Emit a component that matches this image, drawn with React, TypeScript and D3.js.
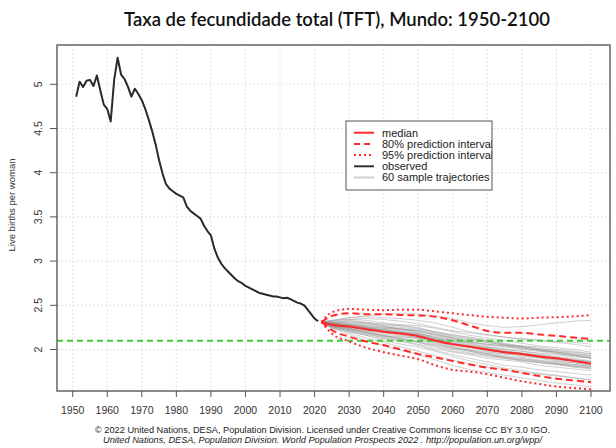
import React from "react";
import * as d3 from "d3";

const W = 616;
const H = 448;

const TITLE = "Taxa de fecundidade total (TFT), Mundo: 1950-2100";
const Y_LABEL = "Live births per woman";
const CREDIT1 = "© 2022 United Nations, DESA, Population Division. Licensed under Creative Commons license CC BY 3.0 IGO.";
const CREDIT2 = "United Nations, DESA, Population Division. World Population Prospects 2022 . http://population.un.org/wpp/";

const X_TICKS = [1950, 1960, 1970, 1980, 1990, 2000, 2010, 2020, 2030, 2040, 2050, 2060, 2070, 2080, 2090, 2100];
const Y_TICKS = [2, 2.5, 3, 3.5, 4, 4.5, 5];
const REPLACEMENT = 2.1;

const OBS_YEARS = d3.range(1951, 2022);
const OBS_TFR = [
  4.86, 5.03, 4.97, 5.04, 5.05, 4.98, 5.10, 4.93, 4.77, 4.72,
  4.58, 5.05, 5.30, 5.11, 5.06, 4.97, 4.86, 4.95, 4.89, 4.82,
  4.72, 4.60, 4.47, 4.32, 4.14, 3.99, 3.87, 3.82, 3.79, 3.76,
  3.74, 3.72, 3.62, 3.57, 3.54, 3.51, 3.48, 3.40, 3.34, 3.29,
  3.14, 3.04, 2.97, 2.92, 2.88, 2.84, 2.80, 2.77, 2.75, 2.72,
  2.70, 2.68, 2.66, 2.64, 2.63, 2.62, 2.61, 2.60, 2.60, 2.59,
  2.58, 2.585, 2.57, 2.55, 2.53, 2.52, 2.50, 2.45, 2.40, 2.35,
  2.32,
];

const PROJ_YEARS = [2022, 2025, 2030, 2035, 2040, 2045, 2050, 2055, 2060, 2065, 2070, 2075, 2080, 2085, 2090, 2095, 2100];
const MEDIAN = [2.31, 2.28, 2.26, 2.23, 2.20, 2.18, 2.15, 2.10, 2.06, 2.03, 2.00, 1.97, 1.95, 1.92, 1.90, 1.87, 1.84];
const UP80 = [2.31, 2.38, 2.41, 2.40, 2.40, 2.39, 2.385, 2.37, 2.33, 2.27, 2.21, 2.19, 2.19, 2.17, 2.155, 2.135, 2.12];
const LO80 = [2.31, 2.22, 2.145, 2.09, 2.05, 2.00, 1.95, 1.91, 1.87, 1.83, 1.795, 1.77, 1.735, 1.70, 1.67, 1.65, 1.63];
const UP95 = [2.31, 2.42, 2.46, 2.45, 2.445, 2.45, 2.45, 2.43, 2.41, 2.39, 2.37, 2.36, 2.35, 2.36, 2.365, 2.375, 2.39];
const LO95 = [2.31, 2.18, 2.09, 2.02, 1.97, 1.93, 1.89, 1.82, 1.77, 1.75, 1.72, 1.68, 1.64, 1.61, 1.58, 1.565, 1.55];

const TRAJ_1 = [2.31, 2.30, 2.33, 2.31, 2.28, 2.27, 2.25, 2.20, 2.15, 2.12, 2.10, 2.06, 2.04, 2.03, 2.00, 1.98, 1.95];
const TRAJ_2 = [2.31, 2.26, 2.22, 2.18, 2.13, 2.10, 2.06, 2.01, 1.97, 1.94, 1.90, 1.88, 1.86, 1.82, 1.80, 1.78, 1.76];
const TRAJ_3 = [2.31, 2.29, 2.28, 2.26, 2.24, 2.22, 2.21, 2.17, 2.13, 2.08, 2.06, 2.04, 2.03, 2.00, 1.98, 1.96, 1.93];
const TRAJ_4 = [2.31, 2.27, 2.24, 2.20, 2.16, 2.12, 2.08, 2.03, 1.98, 1.95, 1.92, 1.90, 1.87, 1.85, 1.83, 1.81, 1.79];
const TRAJ_5 = [2.31, 2.32, 2.36, 2.37, 2.36, 2.35, 2.33, 2.30, 2.25, 2.20, 2.17, 2.14, 2.12, 2.11, 2.09, 2.08, 2.06];
const TRAJ_6 = [2.31, 2.25, 2.19, 2.13, 2.08, 2.03, 1.98, 1.93, 1.88, 1.84, 1.80, 1.77, 1.74, 1.72, 1.70, 1.68, 1.66];
const TRAJ_7 = [2.31, 2.28, 2.25, 2.24, 2.21, 2.19, 2.17, 2.12, 2.09, 2.05, 2.02, 1.99, 1.96, 1.93, 1.91, 1.89, 1.86];
const TRAJ_8 = [2.31, 2.30, 2.27, 2.25, 2.22, 2.20, 2.18, 2.14, 2.10, 2.07, 2.03, 2.00, 1.98, 1.96, 1.94, 1.92, 1.90];
const TRAJ_9 = [2.31, 2.26, 2.23, 2.21, 2.17, 2.15, 2.12, 2.07, 2.02, 1.99, 1.96, 1.93, 1.91, 1.88, 1.86, 1.83, 1.81];
const TRAJ_10 = [2.31, 2.31, 2.30, 2.29, 2.27, 2.25, 2.23, 2.20, 2.17, 2.13, 2.09, 2.06, 2.02, 1.99, 1.97, 1.94, 1.92];
const TRAJ_11 = [2.31, 2.27, 2.24, 2.19, 2.15, 2.14, 2.13, 2.09, 2.04, 2.00, 1.97, 1.95, 1.94, 1.91, 1.88, 1.85, 1.82];
const TRAJ_12 = [2.31, 2.29, 2.29, 2.28, 2.26, 2.23, 2.19, 2.13, 2.08, 2.04, 2.01, 1.98, 1.95, 1.92, 1.89, 1.87, 1.85];
const TRAJ_13 = [2.31, 2.24, 2.20, 2.16, 2.12, 2.09, 2.05, 1.99, 1.94, 1.90, 1.86, 1.82, 1.80, 1.77, 1.75, 1.73, 1.71];
const TRAJ_14 = [2.31, 2.33, 2.34, 2.33, 2.30, 2.28, 2.27, 2.24, 2.20, 2.16, 2.13, 2.10, 2.07, 2.04, 2.02, 2.00, 1.97];
const TRAJ_15 = [2.31, 2.28, 2.26, 2.22, 2.19, 2.16, 2.14, 2.10, 2.06, 2.03, 2.00, 1.96, 1.93, 1.90, 1.87, 1.85, 1.83];
const TRAJ_16 = [2.31, 2.29, 2.27, 2.25, 2.23, 2.21, 2.18, 2.15, 2.11, 2.08, 2.05, 2.03, 2.01, 1.99, 1.97, 1.95, 1.93];
const TRAJ_17 = [2.31, 2.27, 2.25, 2.22, 2.20, 2.17, 2.13, 2.08, 2.03, 1.98, 1.93, 1.90, 1.88, 1.86, 1.84, 1.82, 1.80];
const TRAJ_18 = [2.31, 2.30, 2.31, 2.30, 2.29, 2.27, 2.24, 2.19, 2.16, 2.14, 2.11, 2.07, 2.04, 2.01, 1.97, 1.94, 1.90];
const TRAJ_19 = [2.31, 2.26, 2.21, 2.17, 2.14, 2.11, 2.08, 2.04, 2.00, 1.96, 1.94, 1.91, 1.88, 1.85, 1.83, 1.80, 1.78];
const TRAJ_20 = [2.31, 2.29, 2.27, 2.24, 2.21, 2.19, 2.16, 2.11, 2.07, 2.04, 2.01, 1.98, 1.96, 1.94, 1.91, 1.88, 1.86];
const TRAJ_21 = [2.31, 2.32, 2.34, 2.35, 2.34, 2.32, 2.29, 2.25, 2.21, 2.19, 2.16, 2.14, 2.12, 2.10, 2.08, 2.06, 2.03];
const TRAJ_22 = [2.31, 2.25, 2.21, 2.16, 2.10, 2.06, 2.03, 1.98, 1.92, 1.87, 1.83, 1.79, 1.76, 1.73, 1.71, 1.68, 1.65];
const TRAJ_23 = [2.31, 2.28, 2.24, 2.21, 2.19, 2.18, 2.16, 2.12, 2.07, 2.03, 1.99, 1.97, 1.95, 1.93, 1.90, 1.88, 1.86];
const TRAJ_24 = [2.31, 2.29, 2.26, 2.24, 2.22, 2.20, 2.17, 2.13, 2.10, 2.06, 2.03, 2.01, 1.98, 1.95, 1.92, 1.90, 1.87];
const TRAJ_25 = [2.31, 2.27, 2.23, 2.19, 2.16, 2.13, 2.10, 2.06, 2.02, 1.99, 1.95, 1.91, 1.89, 1.87, 1.85, 1.83, 1.81];
const TRAJ_26 = [2.31, 2.30, 2.28, 2.27, 2.25, 2.24, 2.21, 2.16, 2.12, 2.09, 2.06, 2.04, 2.00, 1.98, 1.95, 1.93, 1.91];
const TRAJ_27 = [2.31, 2.31, 2.32, 2.30, 2.26, 2.23, 2.20, 2.17, 2.13, 2.10, 2.08, 2.05, 2.03, 2.01, 1.99, 1.97, 1.95];
const TRAJ_28 = [2.31, 2.26, 2.22, 2.19, 2.15, 2.12, 2.09, 2.05, 2.01, 1.98, 1.95, 1.92, 1.90, 1.87, 1.84, 1.81, 1.79];
const TRAJ_29 = [2.31, 2.28, 2.27, 2.25, 2.22, 2.19, 2.16, 2.11, 2.06, 2.02, 1.98, 1.95, 1.93, 1.91, 1.89, 1.87, 1.84];
const TRAJ_30 = [2.31, 2.30, 2.29, 2.26, 2.24, 2.23, 2.22, 2.18, 2.14, 2.11, 2.08, 2.05, 2.02, 1.99, 1.96, 1.93, 1.90];
const TRAJ_31 = [2.31, 2.33, 2.36, 2.38, 2.40, 2.41, 2.40, 2.38, 2.35, 2.30, 2.27, 2.25, 2.26, 2.28, 2.30, 2.32, 2.33];
const TRAJ_32 = [2.31, 2.24, 2.17, 2.10, 2.04, 1.99, 1.94, 1.88, 1.82, 1.77, 1.74, 1.71, 1.68, 1.65, 1.62, 1.60, 1.58];

const TRAJECTORIES = [
  TRAJ_1, TRAJ_2, TRAJ_3, TRAJ_4, TRAJ_5, TRAJ_6, TRAJ_7, TRAJ_8, TRAJ_9, TRAJ_10,
  TRAJ_11, TRAJ_12, TRAJ_13, TRAJ_14, TRAJ_15, TRAJ_16, TRAJ_17, TRAJ_18, TRAJ_19, TRAJ_20,
  TRAJ_21, TRAJ_22, TRAJ_23, TRAJ_24, TRAJ_25, TRAJ_26, TRAJ_27, TRAJ_28, TRAJ_29, TRAJ_30,
  TRAJ_31, TRAJ_32,
];

const LEGEND_ITEMS = [
  { label: "median", color: "#ff2a2a", dash: "none", width: 2 },
  { label: "80% prediction interval", color: "#ff2a2a", dash: "6,4", width: 2 },
  { label: "95% prediction interval", color: "#ff2a2a", dash: "2,3", width: 2 },
  { label: "observed", color: "#333", dash: "none", width: 2 },
  { label: "60 sample trajectories", color: "#d0d0d0", dash: "none", width: 2 },
];

const BOX = { left: 57, right: 610, top: 45, bottom: 391 };

export default function App() {
  const x = d3.scaleLinear().domain([1950, 2100]).range([72.7, 591]);
  const y = d3.scaleLinear().domain([2, 5]).range([349.5, 84.3]);

  const lineOf = (years: number[], vals: number[], curve = d3.curveLinear) =>
    d3
      .line<number>()
      .x((_, i) => x(years[i]))
      .y((v) => y(v))
      .curve(curve)(vals) || "";

  const font = "'Liberation Sans', Arial, Helvetica, sans-serif";
  const red = "#ff2a2a";

  const legend = { x: 346, y: 121, w: 146, h: 69 };

  return (
    <svg
      width={W}
      height={H}
      style={{ position: "absolute", left: 0, top: 0, background: "#fff" }}
      fontFamily={font}
    >
      <defs>
        <clipPath id="plotclip">
          <rect x={BOX.left} y={BOX.top} width={BOX.right - BOX.left} height={BOX.bottom - BOX.top} />
        </clipPath>
        <clipPath id="legclip">
          <rect x={legend.x} y={legend.y} width={legend.w} height={legend.h} />
        </clipPath>
      </defs>
      <rect width={W} height={H} fill="#fff" />

      <text
        x={337}
        y={26}
        textAnchor="middle"
        fontFamily="Lato, 'Open Sans', sans-serif"
        fontSize={20}
        fontWeight={600}
        fill="#111"
        textLength={426}
        lengthAdjust="spacingAndGlyphs"
      >
        {TITLE}
      </text>

      {/* grid */}
      <g stroke="#e2e2e2" strokeWidth={1} strokeDasharray="2,2">
        {X_TICKS.map((t) => (
          <line key={"gx" + t} x1={x(t)} x2={x(t)} y1={BOX.top} y2={BOX.bottom} />
        ))}
        {Y_TICKS.map((t) => (
          <line key={"gy" + t} x1={BOX.left} x2={BOX.right} y1={y(t)} y2={y(t)} />
        ))}
      </g>

      <g clipPath="url(#plotclip)">
        {TRAJECTORIES.map((tr, i) => (
          <path
            key={"tr" + i}
            d={lineOf(PROJ_YEARS, tr)}
            fill="none"
            stroke="#8a8a8a"
            strokeOpacity={0.5}
            strokeWidth={0.8}
          />
        ))}
        <line
          x1={BOX.left}
          x2={BOX.right}
          y1={y(REPLACEMENT)}
          y2={y(REPLACEMENT)}
          stroke="#3ccc3c"
          strokeWidth={2}
          strokeDasharray="6,4"
        />
        <path d={lineOf(PROJ_YEARS, UP95, d3.curveMonotoneX)} fill="none" stroke={red} strokeWidth={2} strokeDasharray="2,3" />
        <path d={lineOf(PROJ_YEARS, LO95, d3.curveMonotoneX)} fill="none" stroke={red} strokeWidth={2} strokeDasharray="2,3" />
        <path d={lineOf(PROJ_YEARS, UP80, d3.curveMonotoneX)} fill="none" stroke={red} strokeWidth={2} strokeDasharray="7,4" />
        <path d={lineOf(PROJ_YEARS, LO80, d3.curveMonotoneX)} fill="none" stroke={red} strokeWidth={2} strokeDasharray="7,4" />
        <path d={lineOf(PROJ_YEARS, MEDIAN, d3.curveMonotoneX)} fill="none" stroke={red} strokeWidth={2} />
        <path d={lineOf(OBS_YEARS, OBS_TFR)} fill="none" stroke="#2a2a2a" strokeWidth={2} strokeLinejoin="round" />
      </g>

      {/* box */}
      <rect
        x={BOX.left}
        y={BOX.top}
        width={BOX.right - BOX.left}
        height={BOX.bottom - BOX.top}
        fill="none"
        stroke="#666"
        strokeWidth={1.5}
      />

      {/* x axis */}
      <g>
        {X_TICKS.map((t) => (
          <g key={"xt" + t}>
            <line x1={x(t)} x2={x(t)} y1={BOX.bottom} y2={BOX.bottom + 6} stroke="#555" />
            <text x={x(t)} y={413.5} textAnchor="middle" fontSize={10.5} fill="#333">
              {t}
            </text>
          </g>
        ))}
      </g>

      {/* y axis */}
      <g>
        {Y_TICKS.map((t) => (
          <g key={"yt" + t}>
            <line x1={BOX.left - 7} x2={BOX.left} y1={y(t)} y2={y(t)} stroke="#555" />
            <text
              transform={`translate(${42},${y(t)}) rotate(-90)`}
              textAnchor="middle"
              fontSize={10.5}
              fill="#333"
            >
              {String(t)}
            </text>
          </g>
        ))}
        <text
          transform={`translate(${15},${205}) rotate(-90)`}
          textAnchor="middle"
          fontSize={9.5}
          fill="#333"
        >
          {Y_LABEL}
        </text>
      </g>

      {/* legend */}
      <g>
        <rect x={legend.x} y={legend.y} width={legend.w} height={legend.h} fill="#fff" stroke="#555" strokeWidth={1} />
        <g clipPath="url(#legclip)">
          {LEGEND_ITEMS.map((it, i) => {
            const yy = 132.7 + i * 11.2;
            return (
              <g key={it.label}>
                <line
                  x1={354}
                  x2={374}
                  y1={yy}
                  y2={yy}
                  stroke={it.color}
                  strokeWidth={it.width}
                  strokeDasharray={it.dash}
                />
                <text x={382} y={yy + 3.8} fontSize={11} fill="#222">
                  {it.label}
                </text>
              </g>
            );
          })}
        </g>
      </g>

      {/* credits */}
      <text x={322.5} y={432.5} textAnchor="middle" fontSize={8.5} fill="#222" textLength={455} lengthAdjust="spacingAndGlyphs">
        {CREDIT1}
      </text>
      <text
        x={322.5}
        y={442.5}
        textAnchor="middle"
        fontSize={8.5}
        fontStyle="italic"
        fill="#222"
        textLength={439}
        lengthAdjust="spacingAndGlyphs"
      >
        {CREDIT2}
      </text>
    </svg>
  );
}
